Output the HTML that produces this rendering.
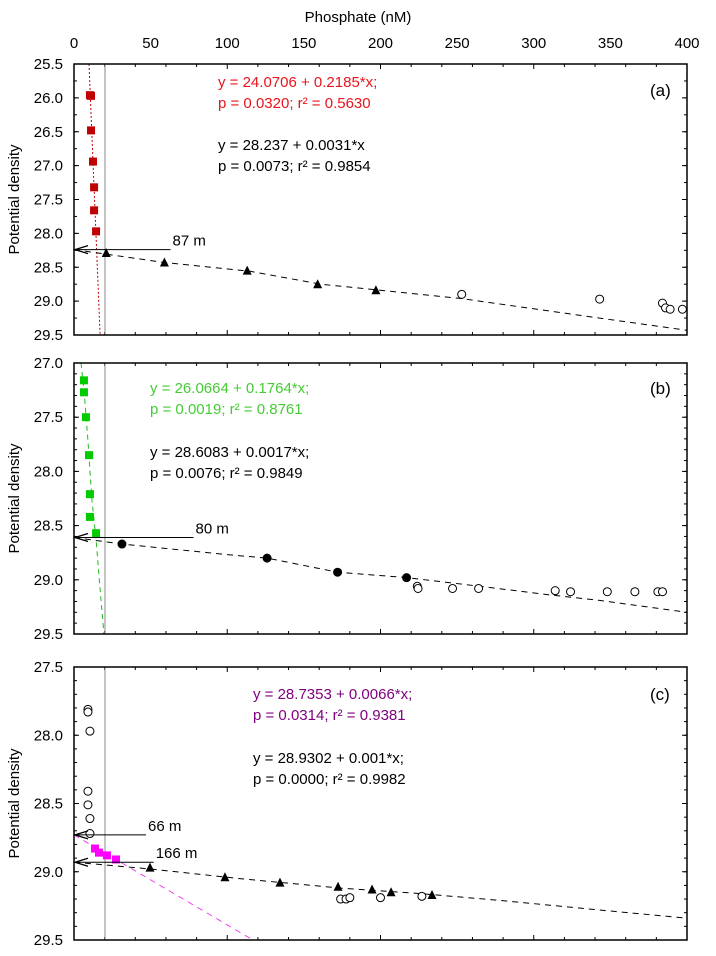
<!DOCTYPE html>
<html><head><meta charset="utf-8"><style>
body{margin:0;background:#fff;}
svg{display:block;font-family:"Liberation Sans",sans-serif;}
</style></head><body>
<svg id="chart" width="716" height="956"></svg>
<script>
const xTicks=[0,50,100,150,200,250,300,350,400];
// panel a
const aRedX=[10.4,11.1,11.1,12.4,13.1,13.1,14.4];
const aRedY=[25.96,25.97,26.48,26.94,27.32,27.66,27.97];
const aRedFitX=[9.8,17];
const aRedFitY=[25.5,29.5];
const aTriX=[21,59,113,159,197];
const aTriY=[28.29,28.43,28.55,28.75,28.84];
const aCircX=[253,343,384,386,389,397];
const aCircY=[28.9,28.97,29.03,29.1,29.12,29.12];
const aFitX=[0,59,115,161,213,252,343,400];
const aFitY=[28.24,28.43,28.56,28.75,28.87,28.96,29.25,29.43];
// panel b
const bGrnX=[6.5,6.5,7.8,9.8,10.4,10.4,14.4];
const bGrnY=[27.16,27.27,27.5,27.85,28.21,28.42,28.57];
const bGrnFitX=[4.6,6.5,9.1,11.7,14.4,17,19.6];
const bGrnFitY=[27,27.25,27.71,28.26,28.63,29.09,29.5];
const bDotX=[31.3,126,172,217];
const bDotY=[28.67,28.8,28.93,28.98];
const bCircX=[224,224.5,247,264,314,324,348,366,381,384];
const bCircY=[29.06,29.08,29.08,29.08,29.1,29.11,29.11,29.11,29.11,29.11];
const bFitX=[0,31,102,126,172,217,265,311,343,400];
const bFitY=[28.61,28.67,28.77,28.8,28.93,28.98,29.06,29.14,29.19,29.3];
// panel c
const cCircLX=[9.1,9.1,10.4,9.1,9.1,10.4,10.4];
const cCircLY=[27.81,27.83,27.97,28.41,28.51,28.61,28.72];
const cMagX=[13.7,16.3,21.5,27.4];
const cMagY=[28.83,28.86,28.88,28.91];
const cMagFitX=[0,116.8];
const cMagFitY=[28.73,29.5];
const cTriX=[49.6,98.5,134.4,172.3,194.5,206.9,233.6];
const cTriY=[28.97,29.04,29.08,29.11,29.13,29.15,29.17];
const cCircX=[174,177.5,180,200,227];
const cCircY=[29.2,29.2,29.19,29.19,29.18];
const cFitX=[0,50,108,174,226,278,343,400];
const cFitY=[28.93,28.98,29.05,29.12,29.16,29.21,29.28,29.34];

const NS="http://www.w3.org/2000/svg";
const svg=document.getElementById('chart');
const X0=74,X1=687;
function sx(v){return X0+v*(X1-X0)/400;}
function mk(tag,attrs,parent){const e=document.createElementNS(NS,tag);for(const k in attrs)e.setAttribute(k,attrs[k]);(parent||svg).appendChild(e);return e;}
function txt(s,x,y,attrs,parent){const t=mk('text',Object.assign({x:x,y:y,'font-size':15},attrs||{}),parent);t.textContent=s;return t;}

const panels=[
 {id:'a',top:64,bot:335,dmin:25.5,dmax:29.5,ticks:[25.5,26.0,26.5,27.0,27.5,28.0,28.5,29.0,29.5],minor:0.25},
 {id:'b',top:363,bot:634,dmin:27.0,dmax:29.5,ticks:[27.0,27.5,28.0,28.5,29.0,29.5],minor:0.1},
 {id:'c',top:667,bot:940,dmin:27.5,dmax:29.5,ticks:[27.5,28.0,28.5,29.0,29.5],minor:0.1}
];
function syF(p){return d=>p.top+(d-p.dmin)*(p.bot-p.top)/(p.dmax-p.dmin);}

const t0=txt('Phosphate (nM)',358,22,{'text-anchor':'middle'});


xTicks.forEach(v=>{const t=txt(String(v),sx(v),48,{'text-anchor':'middle'});

});

function polyline(p,xs,ys,color,dash,name,g){
 const sy=syF(p);let pts=xs.map((v,i)=>sx(v).toFixed(1)+','+sy(ys[i]).toFixed(1)).join(' ');
 const e=mk('polyline',{points:pts,fill:'none',stroke:color,'stroke-width':1,'stroke-dasharray':dash},g);
 
 
}
function squares(p,xs,ys,color,name,g){const sy=syF(p);xs.forEach((v,i)=>{
 const e=mk('rect',{x:sx(v)-4,y:sy(ys[i])-4,width:8,height:8,fill:color},g);
 
 });}
function tris(p,xs,ys,name,g){const sy=syF(p);xs.forEach((v,i)=>{const x=sx(v),y=sy(ys[i]);
 const e=mk('polygon',{points:`${x-4.5},${y+4} ${x+4.5},${y+4} ${x},${y-5}`,fill:'#000'},g);
 
 });}
function circs(p,xs,ys,fill,name,g){const sy=syF(p);xs.forEach((v,i)=>{
 const e=mk('circle',{cx:sx(v),cy:sy(ys[i]),r:4,fill:fill,stroke:'#000','stroke-width':1},g);
 
 });}
function arrow(p,d,fromV,label,g){const sy=syF(p);const y=sy(d);const x=sx(fromV);
 const l=mk('line',{x1:X0,y1:y,x2:x,y2:y,stroke:'#000','stroke-width':1},g);
 
 
 mk('polyline',{points:`${X0+14},${y-4} ${X0+1},${y} ${X0+14},${y+4}`,fill:'none',stroke:'#000','stroke-width':1.3},g);
 const t=txt(label,x+2,y-4,{},g);
 
 }

panels.forEach(p=>{
 const g=mk('g',{});
 
 
 const sy=syF(p);
 // ticks
 for(let v=0;v<=400;v+=20){const x=sx(v);const L=v%50===0?5:3;
  mk('line',{x1:x,y1:p.top,x2:x,y2:p.top+L,stroke:'#000'},g);
  mk('line',{x1:x,y1:p.bot,x2:x,y2:p.bot-L,stroke:'#000'},g);}
 const n=Math.round((p.dmax-p.dmin)/p.minor);
 for(let i=0;i<=n;i++){const y=sy(p.dmin+i*p.minor);
  mk('line',{x1:X0,y1:y,x2:X0+3,y2:y,stroke:'#000'},g);
  mk('line',{x1:X1,y1:y,x2:X1-3,y2:y,stroke:'#000'},g);}
 p.ticks.forEach(d=>{const y=sy(d);
  mk('line',{x1:X0,y1:y,x2:X0+5,y2:y,stroke:'#000'},g);
  mk('line',{x1:X1,y1:y,x2:X1-5,y2:y,stroke:'#000'},g);
  const t=txt(d.toFixed(1),63,y+5,{'text-anchor':'end'},g);
  
  });
 const yt=txt('Potential density',0,0,{'text-anchor':'middle',transform:`translate(19,${(p.top+p.bot)/2}) rotate(-90)`},g);
 
 
 mk('line',{x1:105,y1:p.top,x2:105,y2:p.bot,stroke:'#888','stroke-width':1},g);
 const pl=txt('('+p.id+')',650,p.id==='b'?394:96,{'font-size':17},g);
 if(p.id==='c')pl.setAttribute('y',700);
 
 
 p.g=g;
});
const [A,B,C]=panels;
// a
polyline(A,aRedFitX,aRedFitY,'#c00000','2,2','red-fit-line',A.g);
polyline(A,aFitX,aFitY,'#000','6,5','black-fit-line',A.g);
squares(A,aRedX,aRedY,'#c00000','red-square',A.g);
tris(A,aTriX,aTriY,'triangle-point',A.g);
circs(A,aCircX,aCircY,'#fff','open-circle',A.g);
arrow(A,28.24,63,'87 m',A.g);
txt('y = 24.0706 + 0.2185*x;',218,87,{fill:'#e8141c'},A.g);
txt('p = 0.0320; r² = 0.5630',218,108,{fill:'#e8141c'},A.g);
txt('y = 28.237 + 0.0031*x',218,150,{},A.g);
txt('p = 0.0073; r² = 0.9854',218,171,{},A.g);
// b
polyline(B,bGrnFitX,bGrnFitY,'#22bb22','5,4','green-fit-line',B.g);
polyline(B,bFitX,bFitY,'#000','6,5','black-fit-line',B.g);
squares(B,bGrnX,bGrnY,'#00cc00','green-square',B.g);
circs(B,bDotX,bDotY,'#000','filled-point',B.g);
circs(B,bCircX,bCircY,'#fff','open-circle',B.g);
arrow(B,28.61,78,'80 m',B.g);
txt('y = 26.0664 + 0.1764*x;',150,393,{fill:'#44cc33'},B.g);
txt('p = 0.0019; r² = 0.8761',150,414,{fill:'#44cc33'},B.g);
txt('y = 28.6083 + 0.0017*x;',150,457,{},B.g);
txt('p = 0.0076; r² = 0.9849',150,478,{},B.g);
// c
polyline(C,cMagFitX,cMagFitY,'#ee44ee','6,5','magenta-fit-line',C.g);
polyline(C,cFitX,cFitY,'#000','6,5','black-fit-line',C.g);
circs(C,cCircLX,cCircLY,'#fff','open-circle',C.g);
squares(C,cMagX,cMagY,'#ff00ff','magenta-square',C.g);
tris(C,cTriX,cTriY,'triangle-point',C.g);
circs(C,cCircX,cCircY,'#fff','open-circle',C.g);
arrow(C,28.73,47,'66 m',C.g);
arrow(C,28.93,52,'166 m',C.g);
txt('y = 28.7353 + 0.0066*x;',253,699,{fill:'#800080'},C.g);
txt('p = 0.0314; r² = 0.9381',253,720,{fill:'#800080'},C.g);
txt('y = 28.9302 + 0.001*x;',253,763,{},C.g);
txt('p = 0.0000; r² = 0.9982',253,784,{},C.g);
panels.forEach(p=>{const r=mk('rect',{x:X0,y:p.top,width:X1-X0,height:p.bot-p.top,fill:'none',stroke:'#000','stroke-width':1.5},p.g);
 
 });
</script>
</body></html>
